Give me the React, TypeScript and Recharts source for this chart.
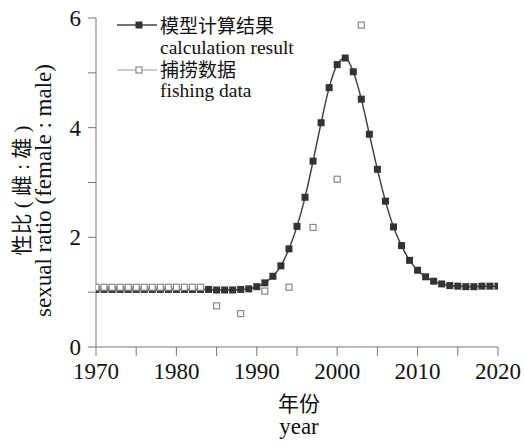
import { ComposedChart, Line, Scatter, XAxis, YAxis, Label } from "recharts";

const modelYears = [
  1970, 1971, 1972, 1973, 1974, 1975, 1976, 1977, 1978, 1979, 1980, 1981, 1982, 1983, 1984, 1985, 1986,
  1987, 1988, 1989, 1990, 1991, 1992, 1993, 1994, 1995, 1996, 1997, 1998, 1999, 2000, 2001, 2002, 2003,
  2004, 2005, 2006, 2007, 2008, 2009, 2010, 2011, 2012, 2013, 2014, 2015, 2016, 2017, 2018, 2019, 2020,
];
const modelValues = [
  1.05, 1.05, 1.05, 1.05, 1.05, 1.05, 1.05, 1.05, 1.05, 1.05, 1.05, 1.05, 1.05, 1.05, 1.05, 1.04, 1.04,
  1.04, 1.05, 1.06, 1.1, 1.17, 1.29, 1.48, 1.79, 2.2, 2.73, 3.39, 4.09, 4.73, 5.15, 5.27, 5.02, 4.52,
  3.88, 3.24, 2.66, 2.19, 1.85, 1.58, 1.4, 1.28, 1.2, 1.15, 1.12, 1.11, 1.1, 1.1, 1.11, 1.11, 1.11,
];

const fishingYears = [
  1970, 1971, 1972, 1973, 1974, 1975, 1976, 1977, 1978, 1979, 1980, 1981, 1982, 1983, 1985, 1988, 1991,
  1994, 1997, 2000, 2003,
];
const fishingValues = [
  1.09, 1.09, 1.09, 1.09, 1.09, 1.09, 1.09, 1.09, 1.09, 1.09, 1.09, 1.09, 1.09, 1.09, 0.75, 0.61, 1.02,
  1.09, 2.18, 3.06, 5.87,
];

const xTicks = [1970, 1975, 1980, 1985, 1990, 1995, 2000, 2005, 2010, 2015, 2020];
const yTicks = [0, 1, 2, 3, 4, 5, 6];

const modelData = modelYears.map((year, i) => ({ year, value: modelValues[i] }));
const fishingData = fishingYears.map((year, i) => ({ year, value: fishingValues[i] }));

const SERIF = "'Liberation Serif', 'Times New Roman', 'Noto Sans CJK SC', serif";
const AXIS = "#777";

function FilledSquare(props: any) {
  const { cx, cy } = props;
  if (cx == null || cy == null) return null;
  return <rect x={cx - 3.5} y={cy - 3.5} width={7} height={7} fill="#333" />;
}

function OpenSquare(props: any) {
  const { cx, cy } = props;
  if (cx == null || cy == null) return null;
  return <rect x={cx - 3} y={cy - 3} width={6} height={6} fill="#fff" stroke="#888" strokeWidth={1.2} />;
}

function YTitle(props: any) {
  const vb = props.viewBox ?? { x: 0, y: 18, width: 96, height: 328 };
  const cy = vb.y + vb.height / 2 + 8;
  return (
    <g style={{ fontFamily: SERIF }} fill="#111">
      <text x={29} y={cy} transform={`rotate(-90 29 ${cy})`} textAnchor="middle" fontSize={21}>
        性比 ( 雌 : 雄 )
      </text>
      <text x={51} y={cy} transform={`rotate(-90 51 ${cy})`} textAnchor="middle" fontSize={23}>
        sexual ratio (female : male)
      </text>
    </g>
  );
}

function XTitle(props: any) {
  const vb = props.viewBox ?? { x: 96, y: 347, width: 402, height: 96 };
  const cx = vb.x + vb.width / 2 + 2;
  return (
    <g style={{ fontFamily: SERIF }} fill="#111" textAnchor="middle">
      <text x={cx} y={vb.y + 64} fontSize={21}>
        年份
      </text>
      <text x={cx} y={vb.y + 87} fontSize={23}>
        year
      </text>
    </g>
  );
}

function LegendBox() {
  return (
    <svg
      width={524}
      height={110}
      style={{ position: "absolute", left: 0, top: 0, pointerEvents: "none", fontFamily: SERIF }}
    >
      <line x1={117} x2={157} y1={25} y2={25} stroke="#444" strokeWidth={1.5} />
      <rect x={135.5} y={21.5} width={7} height={7} fill="#333" />
      <text x={160} y={33} fontSize={19} fill="#111">
        模型计算结果
      </text>
      <text x={160} y={54} fontSize={19.5} fill="#111">
        calculation result
      </text>
      <line x1={117} x2={157} y1={70} y2={70} stroke="#999" strokeWidth={1.2} />
      <rect x={136} y={67} width={6} height={6} fill="#fff" stroke="#888" strokeWidth={1.2} />
      <text x={160} y={77} fontSize={19} fill="#111">
        捕捞数据
      </text>
      <text x={160} y={97} fontSize={19.5} fill="#111">
        fishing data
      </text>
    </svg>
  );
}

export default function App() {
  return (
    <div
      style={{
        position: "fixed",
        left: 0,
        top: 0,
        width: 524,
        height: 443,
        background: "#fff",
        fontFamily: SERIF,
      }}
    >
      <ComposedChart
        width={524}
        height={443}
        margin={{ top: 18, right: 26, left: 0, bottom: 0 }}
        style={{ fontFamily: SERIF }}
      >
        <XAxis
          type="number"
          dataKey="year"
          domain={[1970, 2020]}
          ticks={xTicks}
          interval={0}
          tickFormatter={(v: number) => (v % 10 === 0 ? String(v) : "")}
          height={96}
          tickSize={9}
          tickMargin={7}
          stroke={AXIS}
          tick={{ fill: "#111", fontSize: 23, style: { fontFamily: SERIF } }}
          allowDataOverflow
        >
          <Label content={<XTitle />} />
        </XAxis>
        <YAxis
          type="number"
          dataKey="value"
          domain={[0, 6]}
          ticks={yTicks}
          interval={0}
          tickFormatter={(v: number) => (v % 2 === 0 ? String(v) : "")}
          width={96}
          tickSize={8}
          tickMargin={7}
          stroke={AXIS}
          tick={{ fill: "#111", fontSize: 23, style: { fontFamily: SERIF } }}
          allowDataOverflow
        >
          <Label content={<YTitle />} />
        </YAxis>
        <Line
          data={modelData}
          dataKey="value"
          type="monotone"
          stroke="#444"
          strokeWidth={1.5}
          dot={<FilledSquare />}
          activeDot={false}
          isAnimationActive={false}
        />
        <Scatter data={fishingData} dataKey="value" shape={<OpenSquare />} isAnimationActive={false} />
      </ComposedChart>
      <LegendBox />
    </div>
  );
}
